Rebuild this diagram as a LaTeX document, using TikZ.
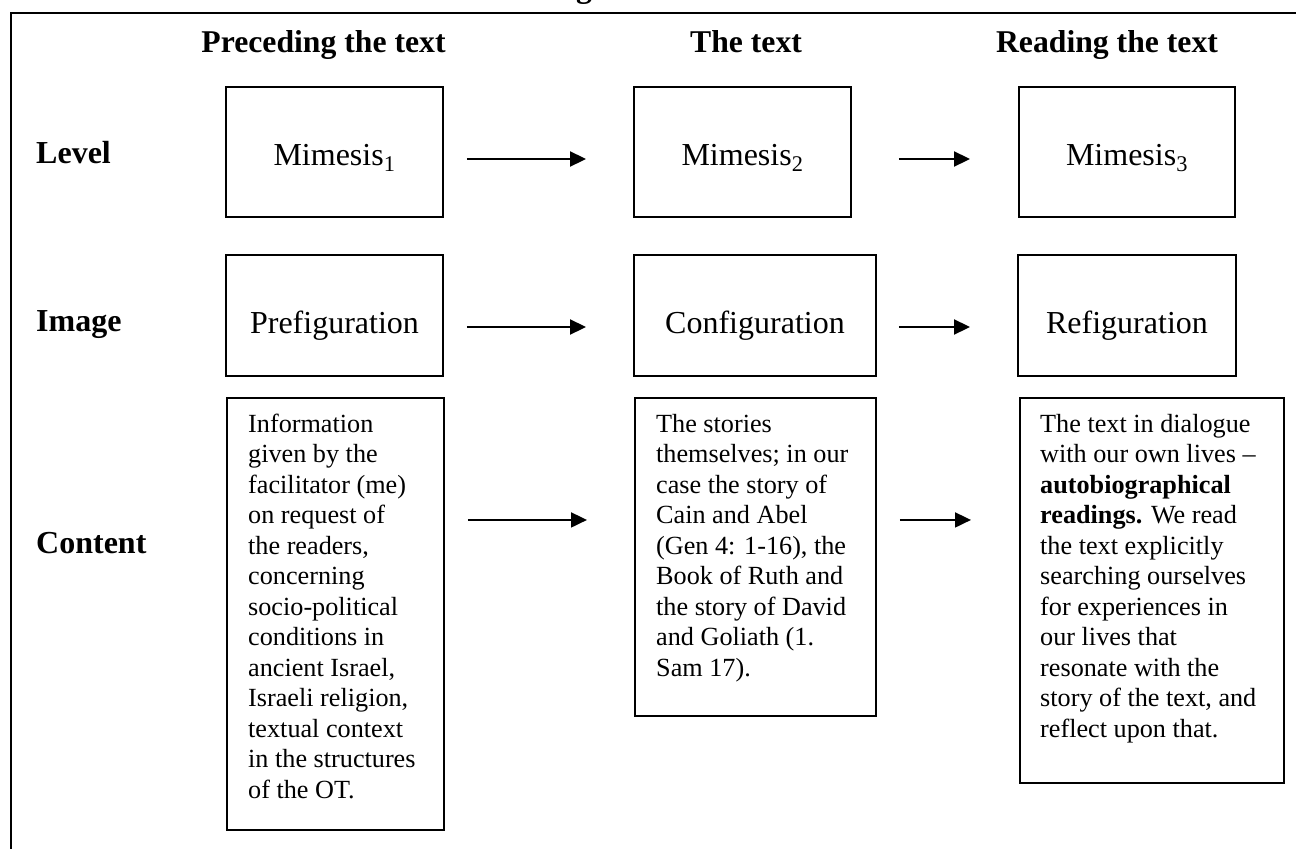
\documentclass[tikz,border=0pt]{standalone}
\usepackage{fontspec}
\setmainfont{Liberation Serif}
\usetikzlibrary{arrows.meta}
\tikzset{
  boxn/.style={draw, line width=1.9pt, inner sep=0pt, font=\fontsize{32pt}{36pt}\selectfont},
  rowone/.style={text height=30pt, text depth=4pt},
  rowtwo/.style={text height=37pt, text depth=2pt},
  cbox/.style={draw, line width=1.9pt, inner sep=0pt, anchor=north west},
  ctext/.style={align=left, inner sep=0pt, anchor=north west, font=\fontsize{26.2pt}{30.5pt}\selectfont},
  hdr/.style={inner sep=0pt, anchor=base, font=\fontsize{31.7pt}{36pt}\selectfont\bfseries},
  lbl/.style={inner sep=0pt, anchor=base west, font=\fontsize{32pt}{36pt}\selectfont\bfseries},
  arr/.style={line width=1.9pt, -{Triangle[length=16pt,width=15pt]}},
  frame/.style={line width=2.4pt}
}
\begin{document}
\begin{tikzpicture}[x=1pt,y=-1pt]
\useasboundingbox (0,0) rectangle (1296,849);
\fill[white] (0,0) rectangle (1296,849);
% cut-off title fragment
\begin{scope}
\clip (0,0) rectangle (1296,849);
\node[hdr] (gfrag) at (584,-3) {g};
\end{scope}
% outer frame
\draw[frame] (1296,13) -- (11,13) -- (11,849);
% column headers
\node[hdr] (h1) at (323.5,52) {Preceding the text};
\node[hdr] (h2) at (746,52) {The text};
\node[hdr] (h3) at (1107,52) {Reading the text};
% row labels
\node[lbl] (l1) at (36,163) {Level};
\node[lbl] (l2) at (36,331) {Image};
\node[lbl] (l3) at (36,553) {Content};
% row 1
\node[boxn, rowone, minimum width=217pt, minimum height=130pt] (m1) at (334.5,152) {Mimesis\textsubscript{1}};
\node[boxn, rowone, minimum width=217pt, minimum height=130pt] (m2) at (742.5,152) {Mimesis\textsubscript{2}};
\node[boxn, rowone, minimum width=216pt, minimum height=130pt] (m3) at (1127,152) {Mimesis\textsubscript{3}};
% row 2
\node[boxn, rowtwo, minimum width=217pt, minimum height=121pt] (p) at (334.5,315.5) {Prefiguration};
\node[boxn, rowtwo, minimum width=242pt, minimum height=121pt] (c) at (755,315.5) {Configuration};
\node[boxn, rowtwo, minimum width=218pt, minimum height=121pt] (r) at (1127,315.5) {Refiguration};
% row 3 boxes
\node[cbox, minimum width=217pt, minimum height=432pt] (i1) at (226,397) {};
\node[cbox, minimum width=241pt, minimum height=318pt] (i2) at (634,397) {};
\node[cbox, minimum width=264pt, minimum height=385pt] (i3) at (1019,397) {};
% row 3 texts
\node[ctext] (t1) at (248,408) {\rule{0pt}{24pt}Information\\given by the\\facilitator (me)\\on request of\\the readers,\\concerning\\socio-political\\conditions in\\ancient Israel,\\Israeli religion,\\textual context\\in the structures\\of the OT.};
\node[ctext] (t2) at (656,408) {\rule{0pt}{24pt}The stories\\themselves; in our\\case the story of\\Cain and Abel\\(Gen 4: 1-16), the\\Book of Ruth and\\the story of David\\and Goliath (1.\\Sam 17).};
\node[ctext] (t3) at (1040,408) {\rule{0pt}{24pt}The text in dialogue\\with our own lives –\\\textbf{autobiographical}\\\textbf{readings.} We read\\the text explicitly\\searching ourselves\\for experiences in\\our lives that\\resonate with the\\story of the text, and\\reflect upon that.};
% arrows
\draw[arr] ([shift={(23,7)}]m1.east) -- ([shift={(-47,7)}]m2.west);
\draw[arr] ([shift={(47,7)}]m2.east) -- ([shift={(-48,7)}]m3.west);
\draw[arr] ([shift={(23,11.5)}]p.east) -- ([shift={(-47,11.5)}]c.west);
\draw[arr] ([shift={(22,11.5)}]c.east) -- ([shift={(-47,11.5)}]r.west);
\draw[arr] ([shift={(23,-94)}]i1.east) -- ([shift={(-47,-37)}]i2.west);
\draw[arr] ([shift={(23,-37)}]i2.east) -- ([shift={(-48,-70.5)}]i3.west);
\end{tikzpicture}
\end{document}
